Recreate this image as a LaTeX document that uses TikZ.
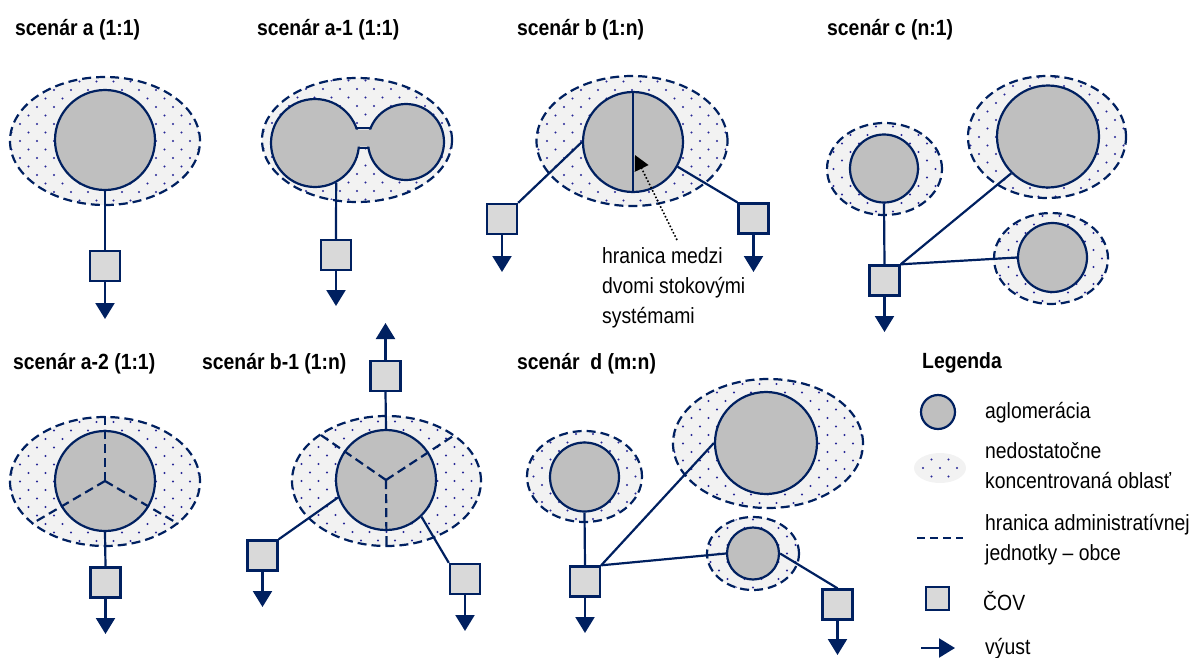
\documentclass[tikz,border=0pt]{standalone}
\usepackage{fontspec}
\setmainfont{Liberation Sans}[FakeStretch=0.88]
\usetikzlibrary{shapes.geometric,arrows.meta,calc}
\definecolor{navy}{RGB}{0,32,96}
\definecolor{dotc}{RGB}{40,40,150}
\definecolor{zonefill}{RGB}{242,242,242}
\definecolor{aglfill}{RGB}{191,191,191}
\definecolor{covfill}{RGB}{217,217,217}
\tikzset{
  dotsfill/.style={path picture={
    \foreach \j in {-8,...,8}{
      \pgfmathsetmacro{\off}{mod(abs(\j),2)*8.5}
      \foreach \i in {-6,...,6}{
        \fill[dotc] ($(path picture bounding box.center)+(\i*17+\off,\j*8.5)$) circle (1.1pt);
      }
    }
  }},
  zone/.style={ellipse, draw=navy, line width=2.2pt, dash pattern=on 9pt off 5pt, fill=zonefill, inner sep=0pt, dotsfill},
  agl/.style={circle, draw=navy, line width=2.2pt, fill=aglfill, inner sep=0pt},
  cov/.style={rectangle, draw=navy, line width=2.4pt, fill=covfill, inner sep=0pt, minimum size=30pt},
  conn/.style={draw=navy, line width=2.2pt},
  vyust/.style={draw=navy, line width=2.2pt, -{Triangle[width=19pt,length=16pt]}},
  bound/.style={draw=navy, line width=2.2pt, dash pattern=on 9pt off 5pt},
  title/.style={anchor=base west, inner sep=0pt, font=\fontsize{22}{26}\selectfont\bfseries},
  lbl/.style={anchor=base west, inner sep=0pt, font=\fontsize{22}{30}\selectfont, align=left}
}
\begin{document}
\begin{tikzpicture}[x=1pt,y=-1pt]
\useasboundingbox (0,0) rectangle (1197,657);

% titles
\node[title] (tA) at (15,35) {scenár a (1:1)};
\node[title] (tA1) at (257,35) {scenár a-1 (1:1)};
\node[title] (tB) at (517,35) {scenár b (1:n)};
\node[title] (tC) at (827,35) {scenár c (n:1)};
\node[title] (tA2) at (13,369) {scenár a-2 (1:1)};
\node[title] (tB1) at (202,369) {scenár b-1 (1:n)};
\node[title] (tD) at (517,369) {scenár\ \ d (m:n)};
\node[title] (tL) at (922,368) {Legenda};

% scenario a
\node[zone, minimum width=190pt, minimum height=128pt] (aZ) at (105,141) {};
\node[agl, minimum size=100pt] (aC) at (105,140) {};
\node[cov] (aS) at (105,266) {};
\coordinate (aO) at (105,319);
\draw[conn] (aC.south) -- (aS.north);
\draw[vyust] (aS.south) -- (aO);

% scenario a-1
\node[zone, minimum width=190pt, minimum height=124pt] (a1Z) at (357,140) {};
\node[agl, minimum size=88pt] (a1L) at (315,143) {};
\node[agl, minimum size=76pt] (a1R) at (406,142) {};
\fill[aglfill] (354,129.5) -- (373,129.5) -- (371,146.5) -- (356,146.5) -- cycle;
\draw[conn] (356.4,128) -- (370.7,128);
\draw[conn] (358.7,148) -- (368.5,148);
\node[cov] (a1S) at (336,255) {};
\coordinate (a1O) at (336,306);
\draw[conn] (a1L.-62) -- (a1S.north);
\draw[vyust] (a1S.south) -- (a1O);

% scenario b
\node[zone, minimum width=191pt, minimum height=130pt] (bZ) at (632,141) {};
\node[agl, minimum size=100pt] (bC) at (633,142) {};
\draw[conn] (bC.north) -- (bC.south);
\node[cov] (bL) at (502,219) {};
\node[cov] (bR) at (753.5,218.5) {};
\draw[conn] (bL.north east) -- (bC.west);
\draw[conn] (bC.-29) -- (bR.north west);
\coordinate (bLO) at (502,272);
\coordinate (bRO) at (753.5,272);
\draw[vyust] (bL.south) -- (bLO);
\draw[vyust] (bR.south) -- (bRO);
\node[lbl] (bT) at (602,323) {hranica medzi\\dvomi stokovými\\systémami};
\coordinate (bA1) at (677,240);
\coordinate (bA2) at (635,155);
\draw[black, line width=1.6pt, dotted, -{Triangle[width=15pt,length=15pt]}] (bA1) -- (bA2);

% scenario c
\node[zone, minimum width=115pt, minimum height=92pt] (cZ1) at (884.5,169) {};
\node[agl, minimum size=68pt] (cC1) at (884,168.5) {};
\node[zone, minimum width=158pt, minimum height=122pt] (cZ2) at (1047,137) {};
\node[agl, minimum size=102pt] (cC2) at (1048,136.5) {};
\node[zone, minimum width=114pt, minimum height=91pt] (cZ3) at (1051,258.5) {};
\node[agl, minimum size=69pt] (cC3) at (1052.5,257.5) {};
\node[cov] (cS) at (884.5,280.5) {};
\coordinate (cO) at (884.5,332);
\draw[conn] (cC1.south) -- (cS.north);
\draw[conn] (cS.north east) -- (cC2.225);
\draw[conn] (cS.north east) -- (cC3.west);
\draw[vyust] (cS.south) -- (cO);

% scenario a-2
\node[zone, minimum width=190pt, minimum height=129pt] (a2Z) at (105,481.5) {};
\node[agl, minimum size=100pt] (a2C) at (105,481) {};
\draw[bound] (a2C.center) -- (a2Z.north);
\draw[bound] (a2C.center) -- (a2Z.210);
\draw[bound] (a2C.center) -- (a2Z.330);
\node[cov] (a2S) at (105.5,582.5) {};
\coordinate (a2O) at (105.5,634);
\draw[conn] (a2C.south) -- (a2S.north);
\draw[vyust] (a2S.south) -- (a2O);

% scenario b-1
\node[zone, minimum width=189pt, minimum height=130pt] (b1Z) at (386.5,481) {};
\node[agl, minimum size=100pt] (b1C) at (386,480) {};
\draw[bound] (b1C.center) -- (b1Z.145);
\draw[bound] (b1C.center) -- (b1Z.34);
\draw[bound] (b1C.center) -- (b1Z.south);
\node[cov] (b1T) at (385.5,376) {};
\node[cov] (b1L) at (262.5,555.5) {};
\node[cov] (b1R) at (465,579) {};
\coordinate (b1TO) at (385.5,323);
\coordinate (b1LO) at (262.5,607);
\coordinate (b1RO) at (465,631);
\draw[conn] (b1C.north) -- (b1T.south);
\draw[conn] (b1L.north east) -- (b1C.200);
\draw[conn] (b1C.-46) -- (b1R.north west);
\draw[vyust] (b1T.north) -- (b1TO);
\draw[vyust] (b1L.south) -- (b1LO);
\draw[vyust] (b1R.south) -- (b1RO);

% scenario d
\node[zone, minimum width=115pt, minimum height=91pt] (dZ1) at (584.5,476.5) {};
\node[agl, minimum size=69pt] (dC1) at (584.5,477) {};
\node[zone, minimum width=190pt, minimum height=129pt] (dZ2) at (768,443.5) {};
\node[agl, minimum size=102pt] (dC2) at (766,443) {};
\node[zone, minimum width=92pt, minimum height=73pt] (dZ3) at (753,553.5) {};
\node[agl, minimum size=52pt] (dC3) at (753,553.5) {};
\node[cov] (dS1) at (585,581.5) {};
\node[cov] (dS2) at (837.5,604.5) {};
\coordinate (dO1) at (585,633);
\coordinate (dO2) at (837.5,655);
\draw[conn] (dC1.south) -- (dS1.north);
\draw[conn] (dS1.north east) -- (dC2.west);
\draw[conn] (dS1.north east) -- (dC3.west);
\draw[conn] (dC3.east) -- (dS2.north);
\draw[vyust] (dS1.south) -- (dO1);
\draw[vyust] (dS2.south) -- (dO2);

% legend
\node[agl, minimum size=34pt] (lgC) at (938,412) {};
\node[lbl] (lgCt) at (985,418) {aglomerácia};
\node[ellipse, fill=zonefill, minimum width=52pt, minimum height=30pt, inner sep=0pt, dotsfill] (lgZ) at (940,468) {};
\node[lbl] (lgZt) at (985,488) {nedostatočne\\koncentrovaná oblasť};
\coordinate (lgD1) at (917,538);
\coordinate (lgD2) at (963,538);
\draw[navy, line width=1.6pt, dash pattern=on 8pt off 5pt] (lgD1) -- (lgD2);
\node[lbl] (lgDt) at (985,560) {hranica administratívnej\\jednotky – obce};
\node[cov, minimum size=23pt] (lgS) at (937.5,598.5) {};
\node[lbl] (lgSt) at (983,610) {ČOV};
\coordinate (lgA1) at (921,648);
\coordinate (lgA2) at (955,648);
\draw[vyust] (lgA1) -- (lgA2);
\node[lbl] (lgAt) at (985,654) {výust};
\end{tikzpicture}
\end{document}
